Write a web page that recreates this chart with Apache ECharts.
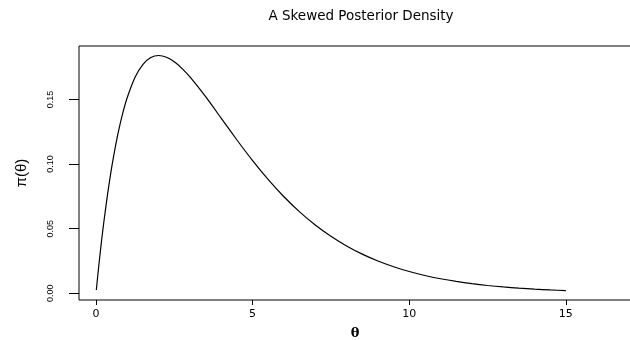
<!DOCTYPE html>
<html><head><meta charset="utf-8">
<script src="https://cdn.jsdelivr.net/npm/echarts@6/dist/echarts.min.js"></script>
<style>html,body{margin:0;padding:0;background:#fff}#c{width:630px;height:340px}</style>
</head><body><div id="c"></div>
<script>
const titleText = 'A Skewed Posterior Density';
const xName = 'θ';
const yName = 'π(θ)';
const thetaValues = [0.01,0.05,0.1,0.15,0.2,0.25,0.375,0.5,0.625,0.75,0.875,1,1.25,1.5,1.75,2,2.25,2.5,2.75,3,3.5,4,4.5,5,5.5,6,6.5,7,7.5,8,8.5,9,9.5,10,10.5,11,11.5,12,12.5,13,13.5,14,14.5,15];
const densityValues = [0.00249,0.01219,0.02378,0.03479,0.04524,0.05516,0.07772,0.09735,0.11431,0.12887,0.14124,0.15163,0.16728,0.17714,0.18238,0.18394,0.18262,0.17906,0.17383,0.16735,0.15205,0.13534,0.11858,0.10261,0.0879,0.07468,0.06301,0.05284,0.04410,0.03663,0.03031,0.02499,0.02055,0.01684,0.01377,0.01124,0.00915,0.00744,0.00603,0.00489,0.00395,0.00319,0.00257,0.00207];
const xTicks = [0,5,10,15];
const yTicks = [0,0.05,0.1,0.15];
const yTickLabels = ['0.00','0.05','0.10','0.15'];

const chart = echarts.init(document.getElementById('c'), null, {renderer:'canvas'});
chart.setOption({
  animation:false,
  backgroundColor:'#fff',
  title:{text:titleText,left:356,textAlign:'center',top:4,textStyle:{fontFamily:'DejaVu Sans',fontSize:13.5,fontWeight:'normal',color:'#000'}},
  grid:{left:79,top:46,width:552,height:254,show:true,borderColor:'#000',borderWidth:1,backgroundColor:'transparent',outerBoundsMode:'none',containLabel:false},
  xAxis:{type:'value',min:-0.543,max:17.08,
    name:xName,nameLocation:'middle',nameGap:27,
    nameTextStyle:{fontFamily:'DejaVu Serif',fontWeight:'bold',fontSize:13,color:'#000'},
    axisLine:{show:false,onZero:false},splitLine:{show:false},
    axisTick:{show:true,inside:false,length:5,lineStyle:{color:'#000'},customValues:xTicks},
    axisLabel:{customValues:xTicks,margin:9,fontFamily:'DejaVu Sans',fontSize:11,color:'#000'}
  },
  yAxis:{type:'value',min:-0.0052,max:0.1913,
    name:yName,nameLocation:'middle',nameGap:50,nameRotate:90,
    nameTextStyle:{fontFamily:'Liberation Sans',fontSize:15,color:'#000'},
    axisLine:{show:false,onZero:false},splitLine:{show:false},
    axisTick:{show:true,inside:false,length:10,lineStyle:{color:'#000'},customValues:yTicks},
    axisLabel:{customValues:yTicks,rotate:90,margin:24,fontFamily:'Liberation Sans',fontSize:9,color:'#000',
      formatter:function(v){const i=yTicks.findIndex(t=>Math.abs(t-v)<1e-9);return i>=0?yTickLabels[i]:'';}}
  },
  series:[{type:'line',data:thetaValues.map((x,i)=>[x,densityValues[i]]),showSymbol:false,smooth:0.2,
    lineStyle:{color:'#000',width:1.2}}]
});
</script></body></html>
